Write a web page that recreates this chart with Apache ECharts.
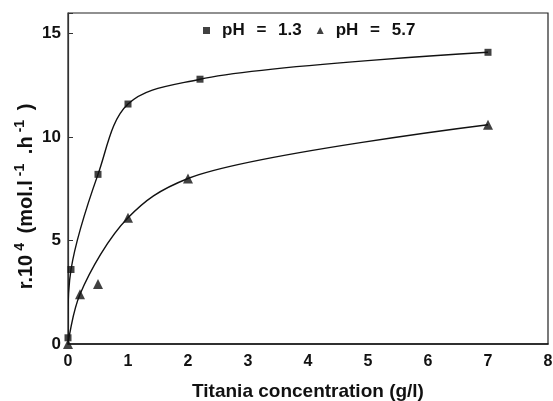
<!DOCTYPE html>
<html>
<head>
<meta charset="utf-8">
<script src="https://cdn.jsdelivr.net/npm/echarts@6/dist/echarts.min.js"></script>
<style>
  html, body { margin: 0; padding: 0; background: #fff; }
  #chart { width: 553px; height: 401px; }
</style>
</head>
<body>
<div id="chart"></div>
<script>
// Photocatalytic rate vs. titania loading at two pH values
const seriesNames = ['pH = 1.3', 'pH = 5.7'];

// pH 1.3 (squares)
const acidX = [0, 0.05, 0.5, 1.0, 2.2, 7.0];
const acidY = [0.3, 3.6, 8.2, 11.6, 12.8, 14.1];

// pH 5.7 (triangles)
const neutralX = [0, 0.2, 0.5, 1.0, 2.0, 7.0];
const neutralY = [0, 2.4, 2.9, 6.1, 8.0, 10.6];

// points the pH 5.7 trend curve follows (the 0.5 g/l point sits off the curve)
const neutralCurveX = [0, 0.2, 1.0, 2.0, 7.0];
const neutralCurveY = [0, 2.4, 6.1, 8.0, 10.6];

const xTicks = [0, 1, 2, 3, 4, 5, 6, 7, 8];
const yTicks = [0, 5, 10, 15];

const pairs = (xs, ys) => xs.map((x, i) => [x, ys[i]]);

const font = 'Liberation Sans, Arial, Helvetica, sans-serif';
const ink = '#111';

// Centripetal Catmull-Rom through screen points, as an SVG path
function catmullRomPath(pts) {
  const alpha = 0.5, eps = 1e-12;
  const dist = (a, b) => Math.hypot(b[0] - a[0], b[1] - a[1]);
  let d = 'M' + pts[0][0] + ' ' + pts[0][1];
  for (let i = 0; i < pts.length - 1; i++) {
    const p0 = pts[Math.max(i - 1, 0)], p1 = pts[i], p2 = pts[i + 1], p3 = pts[Math.min(i + 2, pts.length - 1)];
    const l01a = Math.pow(dist(p0, p1), alpha), l12a = Math.pow(dist(p1, p2), alpha), l23a = Math.pow(dist(p2, p3), alpha);
    const l01_2a = l01a * l01a, l12_2a = l12a * l12a, l23_2a = l23a * l23a;
    let c1 = [p1[0], p1[1]], c2 = [p2[0], p2[1]];
    if (l01a > eps) {
      const a = 2 * l01_2a + 3 * l01a * l12a + l12_2a;
      const n = 3 * l01a * (l01a + l12a);
      c1 = [(p1[0] * a - p0[0] * l12_2a + p2[0] * l01_2a) / n,
            (p1[1] * a - p0[1] * l12_2a + p2[1] * l01_2a) / n];
    }
    if (l23a > eps) {
      const b = 2 * l23_2a + 3 * l23a * l12a + l12_2a;
      const m = 3 * l23a * (l23a + l12a);
      c2 = [(p2[0] * b + p1[0] * l23_2a - p3[0] * l12_2a) / m,
            (p2[1] * b + p1[1] * l23_2a - p3[1] * l12_2a) / m];
    }
    d += ' C' + c1[0] + ' ' + c1[1] + ' ' + c2[0] + ' ' + c2[1] + ' ' + p2[0] + ' ' + p2[1];
  }
  return d;
}

function curveSeries(xs, ys) {
  return {
    type: 'custom',
    silent: true,
    data: pairs(xs, ys),
    clip: true,
    z: 2,
    renderItem: (params, api) => {
      if (params.dataIndex !== 0) return null;
      const pts = xs.map((x, i) => api.coord([x, ys[i]]));
      return {
        type: 'path',
        shape: { pathData: catmullRomPath(pts) },
        style: { fill: null, stroke: ink, lineWidth: 1.4 }
      };
    }
  };
}

const chart = echarts.init(document.getElementById('chart'), null, { renderer: 'canvas' });

const tickFont = { fontFamily: font, fontWeight: 'bold', fontSize: 16, color: ink };

chart.setOption({
  backgroundColor: '#ffffff',
  animation: false,
  grid: {
    left: 68, right: 5, top: 13, bottom: 57,
    outerBoundsMode: 'none',
    show: true, borderColor: '#222', borderWidth: 1.2
  },
  legend: {
    top: 17,
    left: 198,
    itemGap: 15,
    itemWidth: 7,
    itemHeight: 7,
    formatter: name => {
      const parts = name.split(' = ');
      return '{a|' + parts[0] + ' }{e|=}{a| ' + parts[1] + '}';
    },
    textStyle: {
      padding: [0, 0, 0, 7],
      rich: {
        a: { fontFamily: font, fontWeight: 'bold', fontSize: 17, color: ink },
        e: { fontFamily: font, fontWeight: 'bold', fontSize: 17, color: ink, padding: [0, 7] }
      }
    },
    data: [
      { name: seriesNames[0], icon: 'rect' },
      { name: seriesNames[1], icon: 'triangle' }
    ]
  },
  xAxis: {
    type: 'value',
    min: 0,
    max: 8,
    interval: 1,
    name: 'Titania concentration (g/l)',
    nameLocation: 'middle',
    nameGap: 38,
    nameMoveOverlap: false,
    nameTextStyle: { fontFamily: font, fontWeight: 'bold', fontSize: 19, color: ink },
    axisLine: { lineStyle: { color: ink, width: 1.5 } },
    axisTick: { show: false },
    splitLine: { show: false },
    axisLabel: Object.assign({}, tickFont, {
      margin: 10,
      formatter: v => xTicks.includes(v) ? String(v) : ''
    })
  },
  yAxis: {
    type: 'value',
    min: 0,
    max: 16,
    interval: 5,
    name: '{b|r.10}{s|4}{b| (mol.l}{s|-1}{b| .h}{s|-1}{c| )}',
    nameLocation: 'middle',
    nameGap: 28,
    nameMoveOverlap: false,
    nameRotate: 90,
    nameTextStyle: {
      rich: {
        b: { fontFamily: font, fontWeight: 'bold', fontSize: 20, color: ink },
        c: { fontFamily: font, fontWeight: 'bold', fontSize: 20, color: ink, padding: [0, 36, 0, 0] },
        s: { fontFamily: font, fontWeight: 'bold', fontSize: 14, color: ink, verticalAlign: 'bottom', padding: [0, 4, 13, 4] }
      }
    },
    axisLine: { show: true, lineStyle: { color: '#333', width: 1.2 } },
    axisTick: { show: true, inside: true, length: 5, lineStyle: { color: '#333' } },
    splitLine: { show: false },
    axisLabel: Object.assign({}, tickFont, {
      fontSize: 17,
      margin: 7,
      formatter: v => yTicks.includes(v) ? String(v) : ''
    })
  },
  series: [
    curveSeries(acidX, acidY),
    curveSeries(neutralCurveX, neutralCurveY),
    {
      name: seriesNames[0],
      type: 'scatter',
      data: pairs(acidX, acidY),
      symbol: 'rect',
      symbolSize: 7,
      itemStyle: { color: ink },
      z: 4
    },
    {
      name: seriesNames[1],
      type: 'scatter',
      data: pairs(neutralX, neutralY),
      symbol: 'triangle',
      symbolSize: 10,
      itemStyle: { color: ink },
      z: 4
    }
  ]
});
</script>
</body>
</html>
